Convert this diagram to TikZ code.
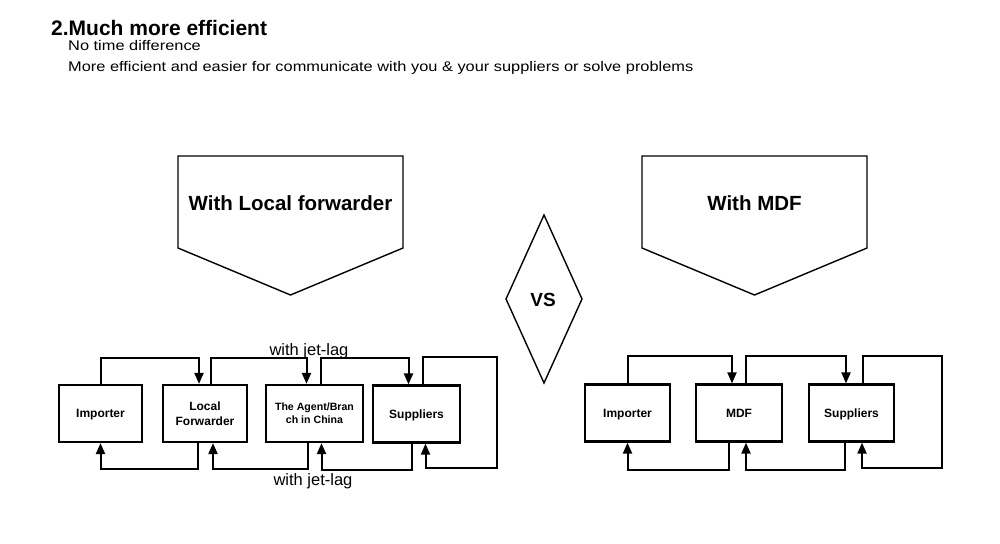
\documentclass[tikz,border=0pt]{standalone}
\usepackage{fontspec}
\setmainfont{Liberation Sans}
\newfontfamily\widefont[FakeStretch=1.17]{Liberation Sans}
\usetikzlibrary{arrows.meta}

\begin{document}
\begin{tikzpicture}[
  x=1pt, y=-1pt,
  box/.style={draw, line width=2.2pt, minimum height=57pt, inner sep=2pt, text depth=0pt,
              align=center, font=\fontsize{12}{15}\selectfont\bfseries},
  head/.style={font=\fontsize{20.5}{24}\selectfont\bfseries},
  lag/.style={font=\fontsize{16.5}{19}\selectfont, inner sep=0pt},
  txt/.style={anchor=base west, inner sep=0pt},
  wire/.style={line width=2pt},
  ar/.style={wire, -{Triangle[length=11pt, width=9pt]}}
]
\useasboundingbox (0,0) rectangle (1000,543);

% --- title ---
\node[txt, font=\fontsize{21}{24}\selectfont\bfseries] (title) at (51,36) {2.Much more efficient};
\node[txt, font=\widefont\fontsize{14}{17}\selectfont] (line1) at (68,50) {No time difference};
\node[txt, font=\widefont\fontsize{14}{17}\selectfont] (line2) at (68,71)
  {More efficient and easier for communicate with you \& your suppliers or solve problems};

% --- headers ---
\draw[line width=1.4pt] (178,156) -- (403,156) -- (403,248) -- (290.5,295) -- (178,248) -- cycle;
\node[head] (hleft) at (290.5,203) {With Local forwarder};
\draw[line width=1.4pt] (642,156) -- (867,156) -- (867,248) -- (754.5,295) -- (642,248) -- cycle;
\node[head] (hright) at (754.5,203) {With MDF};
\draw[line width=1.4pt] (544,215) -- (582,299) -- (544,383) -- (506,299) -- cycle;
\node[head, font=\fontsize{19}{22}\selectfont\bfseries] (vs) at (543,300) {VS};

% --- left: with local forwarder ---
\node[box, minimum width=83pt] (imp) at (100.5,413.5) {Importer};
\node[box, minimum width=84pt] (lf)  at (205,413.5)   {Local\\ Forwarder};
\node[box, minimum width=97pt, font=\fontsize{10.6}{13}\selectfont\bfseries]
                               (agt) at (314.5,413.5) {The Agent/Bran\\ ch in China};
\node[box, minimum width=87pt] (sup) at (416.5,414)   {Suppliers};

\draw[ar] (imp.north) -- ++(0,-26) -| ([xshift=-6pt]lf.north);
\draw[ar] ([xshift=6pt]lf.north) -- ++(0,-26) -| ([xshift=-8pt]agt.north);
\draw[ar] ([xshift=6pt]agt.north) -- ++(0,-26) -| ([xshift=-8pt]sup.north);
\draw[ar] ([xshift=6pt]sup.north) -- ++(0,-27) -| ++(74,111) -| ([xshift=9pt]sup.south);

\draw[ar] ([xshift=-7pt]lf.south) -- ++(0,26) -| (imp.south);
\draw[ar] ([xshift=-7pt]agt.south) -- ++(0,26) -| ([xshift=8pt]lf.south);
\draw[ar] ([xshift=-5pt]sup.south) -- ++(0,26) -| ([xshift=7pt]agt.south);

\node[lag, anchor=base] (lagtop) at (309,355) {with jet-lag};
\node[lag, anchor=base] (lagbot) at (313,485) {with jet-lag};

% --- right: with MDF ---
\node[box, minimum width=85pt] (imp2) at (627.5,413) {Importer};
\node[box, minimum width=86pt] (mdf)  at (739,413)   {MDF};
\node[box, minimum width=85pt] (sup2) at (851.5,413) {Suppliers};

\draw[ar] (imp2.north) -- ++(0,-27) -| ([xshift=-7pt]mdf.north);
\draw[ar] ([xshift=7pt]mdf.north) -- ++(0,-27) -| ([xshift=-5.5pt]sup2.north);
\draw[ar] ([xshift=11.5pt]sup2.north) -- ++(0,-27) -| ++(79,112) -| ([xshift=10.5pt]sup2.south);

\draw[ar] ([xshift=-10pt]mdf.south) -- ++(0,27) -| (imp2.south);
\draw[ar] ([xshift=-6.5pt]sup2.south) -- ++(0,27) -| ([xshift=7pt]mdf.south);
\end{tikzpicture}
\end{document}
